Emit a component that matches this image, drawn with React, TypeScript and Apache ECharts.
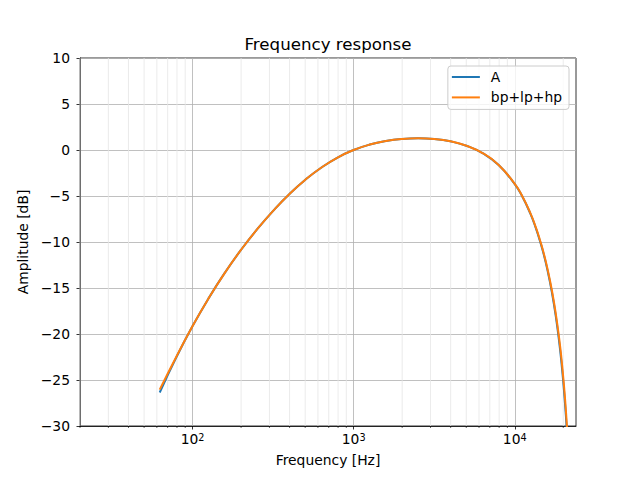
import React, { useEffect, useRef } from "react";
import * as echarts from "echarts";

const freqs = [62.5, 79.4, 100, 125.9, 158.5, 199.5, 251.2, 316.2, 398.1, 501.2, 631, 794.3, 1000, 1259, 1585, 1995, 2512, 3162, 3981, 5012, 6310, 7943, 10000, 11100, 12500, 13500, 14300, 15000, 16000, 17000, 18000, 19000, 19500, 20000, 20500, 21000, 21500, 22000];
const valuesA = [-26.36, -22.51, -19.14, -16.1, -13.35, -10.87, -8.63, -6.61, -4.8, -3.23, -1.9, -0.82, 0.0, 0.59, 0.98, 1.2, 1.27, 1.19, 0.94, 0.46, -0.34, -1.64, -3.71, -5.01, -6.92, -8.46, -9.83, -11.1, -13.14, -15.46, -18.14, -21.31, -23.15, -25.19, -27.51, -30.2, -33.36, -37.24];
const valuesBLH = [-26.05, -22.45, -19.12, -16.1, -13.35, -10.87, -8.63, -6.61, -4.8, -3.23, -1.9, -0.82, 0.0, 0.59, 0.98, 1.2, 1.27, 1.19, 0.94, 0.46, -0.33, -1.62, -3.68, -4.97, -6.86, -8.38, -9.73, -10.98, -12.98, -15.25, -17.86, -20.9, -22.7, -24.7, -26.95, -29.55, -32.6, -36.4];

const majorTicks = [100, 1000, 10000];
const minorTicks = [20, 30, 40, 50, 60, 70, 80, 90, 200, 300, 400, 500, 600, 700, 800, 900, 2000, 3000, 4000, 5000, 6000, 7000, 8000, 9000, 20000];
const xMin = 20;
const xMax = 24000;
const yMin = -30;
const yMax = 10;

const FONT = "DejaVu Sans";

export default function App() {
  const ref = useRef<HTMLDivElement>(null);
  useEffect(() => {
    if (!ref.current) return;
    const chart = echarts.init(ref.current, null, { renderer: "svg" });
    const supMap: Record<number, string> = { 100: "2", 1000: "3", 10000: "4" };
    chart.setOption({
      animation: false,
      backgroundColor: "#ffffff",
      textStyle: { fontFamily: FONT },
      graphic: [
        {
          type: "text",
          x: 328,
          y: 44,
          style: {
            text: "Frequency response",
            font: `16.67px '${FONT}'`,
            fill: "#000",
            textAlign: "center",
            textVerticalAlign: "middle",
          },
        },
      ],
      grid: {
        left: 80,
        top: 58,
        width: 496,
        height: 368,
        show: true,
        borderColor: "#000",
        borderWidth: 0.8,
        containLabel: false,
      },
      legend: {
        orient: "vertical",
        right: 71,
        top: 66,
        data: ["A", "bp+lp+hp"],
        icon: "rect",
        itemWidth: 28,
        itemHeight: 2,
        itemGap: 6.4,
        padding: [4, 7, 5, 4],
        backgroundColor: "rgba(255,255,255,0.8)",
        borderColor: "#cccccc",
        borderWidth: 1,
        borderRadius: 3,
        textStyle: {
          fontFamily: FONT,
          fontSize: 13.89,
          color: "#000",
          lineHeight: 14,
          padding: [0, 0, 0, 6],
        },
      },
      xAxis: {
        type: "log",
        logBase: 10,
        min: xMin,
        max: xMax,
        name: "Frequency [Hz]",
        nameLocation: "middle",
        nameGap: 34,
        nameTextStyle: { fontFamily: FONT, fontSize: 13.89, color: "#000", verticalAlign: "middle" },
        axisLine: { show: true, onZero: false, lineStyle: { color: "#000", width: 0.8 } },
        axisTick: {
          show: true,
          customValues: majorTicks,
          length: 3.5,
          inside: false,
          lineStyle: { color: "#000", width: 0.8 },
        },
        axisLabel: {
          customValues: majorTicks,
          margin: 6,
          color: "#000",
          formatter: (v: number) => {
            const s = supMap[Math.round(v)];
            return s ? `{b|10}{s|${s}}` : "";
          },
          rich: {
            b: { fontFamily: FONT, fontSize: 13.89, color: "#000" },
            s: { fontFamily: FONT, fontSize: 9.7, color: "#000", verticalAlign: "top" },
          },
        },
        splitLine: { show: true, lineStyle: { color: "#b0b0b0", width: 0.8 } },
        minorTick: { show: false },
        minorSplitLine: { show: false },
      },
      yAxis: {
        type: "value",
        min: yMin,
        max: yMax,
        interval: 5,
        name: "Amplitude [dB]",
        nameLocation: "middle",
        nameGap: 43,
        nameTextStyle: { fontFamily: FONT, fontSize: 13.89, color: "#000" },
        axisLine: { show: true, onZero: false, lineStyle: { color: "#000", width: 0.8 } },
        axisTick: { show: true, length: 3.5, lineStyle: { color: "#000", width: 0.8 } },
        axisLabel: {
          margin: 10,
          fontFamily: FONT,
          fontSize: 13.89,
          color: "#000",
          formatter: (v: number) => String(v).replace("-", "\u2212"),
        },
        splitLine: { show: true, lineStyle: { color: "#b0b0b0", width: 0.8 } },
      },
      series: [
        {
          type: "custom",
          name: "minor",
          coordinateSystem: "cartesian2d",
          clip: false,
          silent: true,
          z: 1,
          data: minorTicks.map((f) => [f, yMin]),
          encode: { x: 0, y: 1 },
          renderItem: (params: any, api: any) => {
            const f = api.value(0);
            const top = api.coord([f, yMax]);
            const bot = api.coord([f, yMin]);
            return {
              type: "group",
              children: [
                {
                  type: "line",
                  shape: { x1: bot[0], y1: top[1], x2: bot[0], y2: bot[1] },
                  style: { stroke: "#e6e6e6", lineWidth: 0.8 },
                },
                {
                  type: "line",
                  shape: { x1: bot[0], y1: bot[1], x2: bot[0], y2: bot[1] + 2 },
                  style: { stroke: "#000", lineWidth: 0.6 },
                },
              ],
            };
          },
        },
        {
          type: "line",
          name: "A",
          data: freqs.map((f, i) => [f, valuesA[i]]),
          symbol: "none",
          smooth: 0.5,
          clip: true,
          z: 3,
          lineStyle: { color: "#1f77b4", width: 2 },
          itemStyle: { color: "#1f77b4" },
        },
        {
          type: "line",
          name: "bp+lp+hp",
          data: freqs.map((f, i) => [f, valuesBLH[i]]),
          symbol: "none",
          smooth: 0.5,
          clip: true,
          z: 4,
          lineStyle: { color: "#ff7f0e", width: 2 },
          itemStyle: { color: "#ff7f0e" },
        },
      ],
    });
    return () => chart.dispose();
  }, []);
  return <div ref={ref} style={{ width: 640, height: 480, position: "absolute", left: 0, top: 0 }} />;
}
